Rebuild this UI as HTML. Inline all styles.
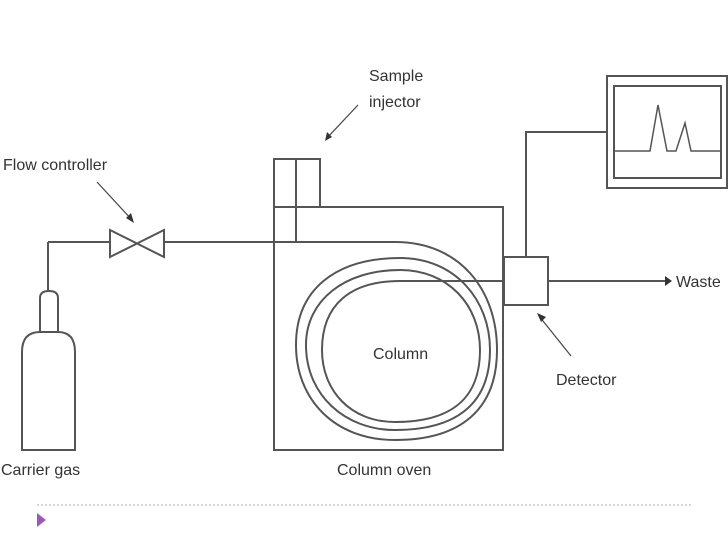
<!DOCTYPE html>
<html><head><meta charset="utf-8"><style>
html,body{margin:0;padding:0;background:#fff;}
svg{display:block;}
text{font-family:"Liberation Sans",sans-serif;fill:#333;font-size:16px;}
</style></head><body>
<svg width="728" height="546" viewBox="0 0 728 546" xmlns="http://www.w3.org/2000/svg">
<g fill="none" stroke="#555" stroke-width="2">
<!-- cylinder -->
<path d="M48 242 V291"/>
<path d="M40 332 V298 Q40 291 49 291 Q58 291 58 298 V332 Z"/>
<path d="M22 450 V352 Q22 332 40 332 H58 Q75 332 75 352 V450 Z"/>
<!-- gas line -->
<path d="M48 242 H110"/>
<path d="M164 242 H296"/>
<!-- valve -->
<path d="M110 230 L164 257 V230 L110 257 Z"/>
<!-- injector & oven -->
<path d="M274 207 V159 H320 V207"/>
<path d="M296 159 V242"/>
<path d="M274 207 H503 V450 H274 V207"/>
<!-- column coil -->
<path d="M296 242 H395 C460 242 497 290 497 350 C497 410 460 440 395 440 C335 440 296 400 296 345 C296 290 335 258 400 258 C455 258 490 300 490 350 C490 405 455 430 395 430 C345 430 306 395 306 345 C306 300 345 270 400 270 C448 270 480 305 480 350 C480 400 450 422 395 422 C350 422 322 390 322 350 C322 305 350 281 400 281 H504"/>
<!-- detector -->
<rect x="504" y="257" width="44" height="48"/>
<path d="M526 257 V132 H607"/>
<path d="M548 281 H670"/>
<!-- monitor -->
<rect x="607" y="76" width="120" height="112"/>
<rect x="614" y="86" width="107" height="92"/>
<path d="M614 151 H650 L658 105 L667 151 H676 L685 123 L691 151 H721" stroke-width="1.5"/>
</g>
<path d="M672 281 L665 276 V286 Z" fill="#333"/>
<!-- label arrows -->
<g stroke="#444" stroke-width="1.2">
<line x1="97" y1="182" x2="132" y2="220"/>
<line x1="358" y1="105" x2="327" y2="138"/>
<line x1="571" y1="356" x2="539" y2="316"/>
</g>
<path d="M134 223 L126 218 L131 213 Z" fill="#333"/>
<path d="M325 141 L327 132 L332 137 Z" fill="#333"/>
<path d="M537 313 L546 317 L541 322 Z" fill="#333"/>
<text x="3" y="170">Flow controller</text>
<text x="369" y="81">Sample</text>
<text x="369" y="107">injector</text>
<text x="676" y="287">Waste</text>
<text x="373" y="359">Column</text>
<text x="556" y="385">Detector</text>
<text x="1" y="475">Carrier gas</text>
<text x="337" y="475">Column oven</text>
<line x1="37" y1="505" x2="692" y2="505" stroke="#b9a6c6" stroke-width="1" stroke-dasharray="2,2"/>
<path d="M37 513 L46 520 L37 527 Z" fill="#9b59b6"/>
</svg>
</body></html>
